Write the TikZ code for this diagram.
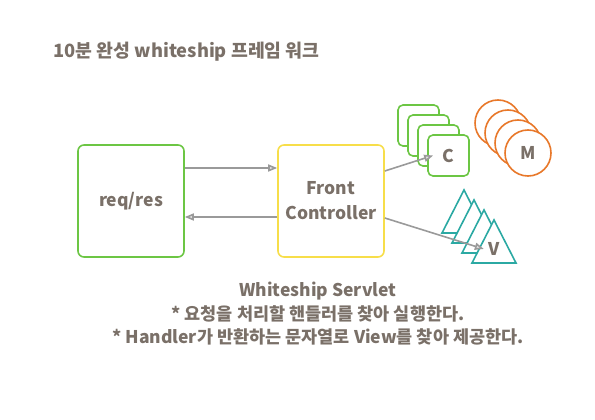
\documentclass[tikz,border=0pt]{standalone}
\usepackage{fontspec}
\setmainfont{Noto Sans CJK KR}
\usetikzlibrary{arrows.meta}

\definecolor{textgray}{HTML}{7A7068}
\definecolor{linegray}{HTML}{9A9A9A}
\definecolor{reqgreen}{HTML}{6CC644}
\definecolor{fcyellow}{HTML}{F7DE4A}
\definecolor{morange}{HTML}{E8782A}
\definecolor{vteal}{HTML}{2BA9A3}

\begin{document}
\begin{tikzpicture}[
    x=1pt, y=-1pt,
    >={Triangle[length=9pt,width=7pt,fill=linegray!30]},
    txt/.style={
        text=textgray,
        font=\bfseries\fontsize{17.5}{23.5}\selectfont
    },
    bigbox/.style={
        rounded corners=6pt,
        line width=1.6pt,
        minimum width=106pt,
        minimum height=112pt,
        inner sep=0pt,
        align=center
    },
    cbox/.style={
        draw=reqgreen,
        fill=white,
        rounded corners=5pt,
        line width=1.6pt,
        minimum size=41pt,
        inner sep=0pt
    },
    mball/.style={
        draw=morange,
        fill=white,
        circle,
        line width=1.6pt,
        minimum size=46pt,
        inner sep=0pt
    },
    vtri/.style={
        draw=vteal,
        fill=white,
        line width=1.6pt,
        line join=miter
    },
    flow/.style={
        ->,
        draw=linegray,
        line width=1.6pt
    }
    ]
    \useasboundingbox (0,0) rectangle (595,420);

    \node[txt,anchor=west,font=\bfseries\fontsize{18.3}{22}\selectfont] (title) at (50,52) {10분 완성 whiteship 프레임 워크};

    \node[bigbox,draw=reqgreen,txt] (req) at (131,201) {req/res};
    \node[bigbox,draw=fcyellow,txt,font=\bfseries\fontsize{17.5}{25}\selectfont] (fc) at (331,201) {Front\\Controller};

    % controllers
    \foreach \i in {0,...,3}
        \node[cbox] (c\i) at ({418.5+10*\i},{125.5+10*\i}) {};
    \node[txt] (ctext) at (c3) {C};

    % models
    \foreach \i in {0,...,3}
        \node[mball] (m\i) at ({498+10*\i},{123+10*\i}) {};
    \node[txt] (mtext) at (m3) {M};

    % views
    \foreach \i in {0,...,3}
        \draw[vtri] ({464+10*\i},{190+10*\i}) -- ++(22,43) -- ++(-44,0) -- cycle;
    \node[txt] (vtext) at (494,249) {V};

    \draw[flow] ([yshift=33pt]req.east) -- ([yshift=33pt]fc.west);
    \draw[flow] ([yshift=-16pt]fc.west) -- ([yshift=-16pt]req.east);
    \draw[flow] ([yshift=30pt]fc.east) -- ([xshift=-6pt]ctext.west);
    \draw[flow] ([yshift=-17pt]fc.east) -- ([xshift=-1pt]vtext.west);

    \node[txt,align=center] (servlet) at (318,314) {Whiteship Servlet\\
        * 요청을 처리할 핸들러를 찾아 실행한다.\\
        * Handler가 반환하는 문자열로 View를 찾아 제공한다.};
\end{tikzpicture}
\end{document}
